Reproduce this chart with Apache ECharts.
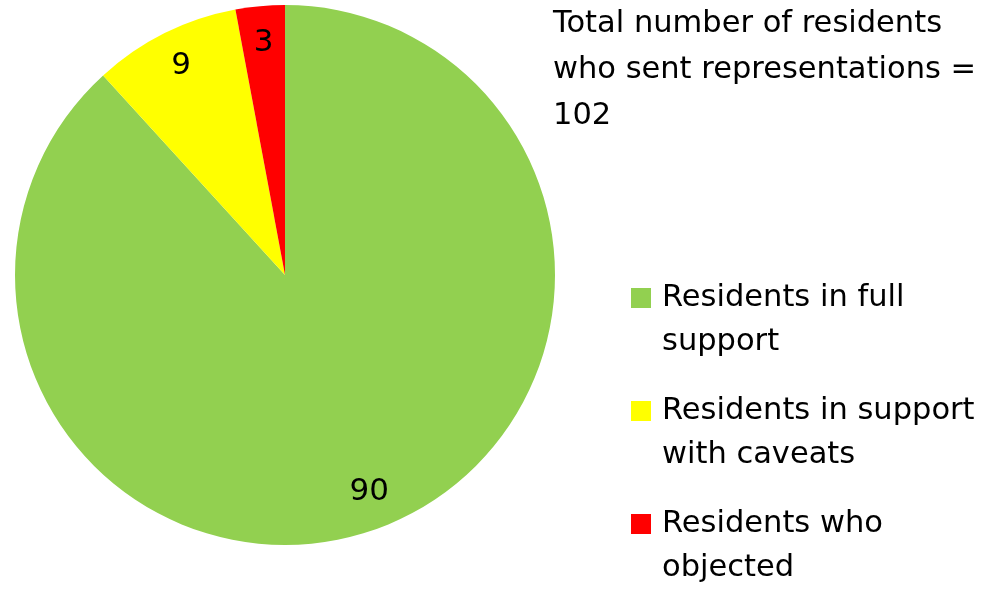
<!DOCTYPE html>
<html>
<head>
<meta charset="utf-8">
<script src="https://cdn.jsdelivr.net/npm/echarts@6/dist/echarts.min.js"></script>
<style>
    html, body { margin: 0; padding: 0; background: #fff; }
    #chartPie { width: 988px; height: 590px; }
</style>
</head>
<body>
<div id="chartPie"></div>
<script>
    // data
    var categories = ['Residents in full support', 'Residents in support with caveats', 'Residents who objected'];
    var legendLines = [
        ['Residents in full', 'support'],
        ['Residents in support', 'with caveats'],
        ['Residents who', 'objected']
    ];
    var values = [90, 9, 3];
    var colors = ['#92D050', '#FFFF00', '#FF0000'];
    var titleText = 'Total number of residents\nwho sent representations =\n102';

    var FONT = 'DejaVu Sans';
    var FONT_SIZE = 30.5;

    var chartPie = echarts.init(document.getElementById('chartPie'));

    var pieData = categories.map(function (name, i) {
        return { name: name, value: values[i], itemStyle: { color: colors[i] } };
    });
    // same slices, invisible, only there to put the labels at ~85% of the radius
    var labelData = categories.map(function (name, i) {
        return { name: name, value: values[i], itemStyle: { color: 'rgba(0,0,0,0)' } };
    });

    var legendText = {
        fontFamily: FONT,
        fontSize: FONT_SIZE,
        lineHeight: 44,
        color: '#000',
        padding: [0, 0, 0, 6]
    };

    var options = {
        animation: false,
        title: {
            text: titleText,
            left: 553,
            top: 1,
            padding: 0,
            textStyle: {
                fontFamily: FONT,
                fontSize: FONT_SIZE,
                fontWeight: 'normal',
                lineHeight: 46,
                color: '#000'
            }
        },
        legend: {
            orient: 'vertical',
            left: 631,
            top: 232,
            height: 380,
            padding: 0,
            itemGap: -19,
            itemWidth: 20,
            itemHeight: 20,
            icon: 'rect',
            data: categories,
            // empty first line keeps the square level with the first text line
            formatter: function (name) {
                var l = legendLines[categories.indexOf(name)];
                return '{t| }\n{t|' + l[0] + '}\n{t|' + l[1] + '}';
            },
            textStyle: {
                fontFamily: FONT,
                fontSize: FONT_SIZE,
                lineHeight: 44,
                color: '#000',
                rich: { t: legendText }
            }
        },
        series: [
            {
                name: 'residents',
                type: 'pie',
                center: [285, 275],
                radius: [0, 270],
                startAngle: 90,
                clockwise: true,
                silent: true,
                label: { show: false },
                labelLine: { show: false },
                itemStyle: { borderWidth: 0 },
                data: pieData
            },
            {
                name: 'labels',
                type: 'pie',
                center: [285, 275],
                radius: [190, 270],
                startAngle: 90,
                clockwise: true,
                silent: true,
                label: {
                    show: true,
                    position: 'inside',
                    rotate: 0,
                    formatter: '{c}',
                    fontFamily: FONT,
                    fontSize: 31,
                    color: '#000'
                },
                labelLine: { show: false },
                itemStyle: { borderWidth: 0 },
                data: labelData
            }
        ]
    };

    chartPie.setOption(options);
</script>
</body>
</html>
